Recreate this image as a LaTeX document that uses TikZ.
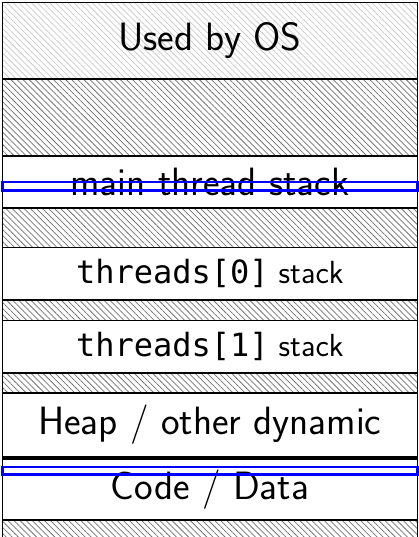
\documentclass[tikz,border=0pt]{standalone}
\usepackage{fontspec}
\newfontfamily\dejamono{DejaVu Sans Mono}
\usetikzlibrary{patterns.meta}
\begin{document}
\begin{tikzpicture}[x=1pt,y=-1pt,
  region/.style={draw=black, line width=1.2pt, anchor=north west, minimum width=415pt,
    inner sep=0pt, outer sep=0pt, font=\sffamily\fontsize{39.5}{42}\selectfont},
  darkhatch/.style={region, pattern={Lines[angle=-45,distance=4.3pt,line width=0.75pt]}, pattern color=black!55},
  lighthatch/.style={region, pattern={Lines[angle=-45,distance=4.3pt,line width=0.75pt]}, pattern color=black!20},
  plain/.style={region, fill=white},
  smalltext/.style={font=\sffamily\fontsize{32}{35}\selectfont},
  marker/.style={draw=blue, line width=2.6pt, anchor=north west, minimum width=415pt,
    inner sep=0pt, outer sep=0pt}
]
\useasboundingbox (0,0) rectangle (419,537);
\clip (0,0) rectangle (419,537);
\fill[white] (0,0) rectangle (419,537);
\node[lighthatch, minimum height=76.5pt] (os) at (2.3,2.5) {Used by OS};
\node[darkhatch, minimum height=77pt] (free1) at (2.3,79) {};
\node[plain, minimum height=52pt] (main) at (2.3,156) {main thread stack};
\node[darkhatch, minimum height=39.5pt] (free2) at (2.3,208) {};
\node[plain, smalltext, minimum height=52.5pt] (t0) at (2.3,247.5) {{\dejamono threads[0]} stack};
\node[darkhatch, minimum height=20.5pt] (free3) at (2.3,300) {};
\node[plain, smalltext, minimum height=52.5pt] (t1) at (2.3,320.5) {{\dejamono threads[1]} stack};
\node[darkhatch, minimum height=20pt] (free4) at (2.3,373) {};
\node[plain, minimum height=64pt] (heap) at (2.3,393) {Heap / other dynamic};
\node[plain, minimum height=61pt] (code) at (2.3,459) {Code / Data};
\node[darkhatch, minimum height=30pt] (free5) at (2.3,520) {};
\node[marker, minimum height=8.5pt] (sp1) at (2.3,182) {};
\node[marker, minimum height=7.5pt] (sp2) at (2.3,467) {};
\end{tikzpicture}
\end{document}
